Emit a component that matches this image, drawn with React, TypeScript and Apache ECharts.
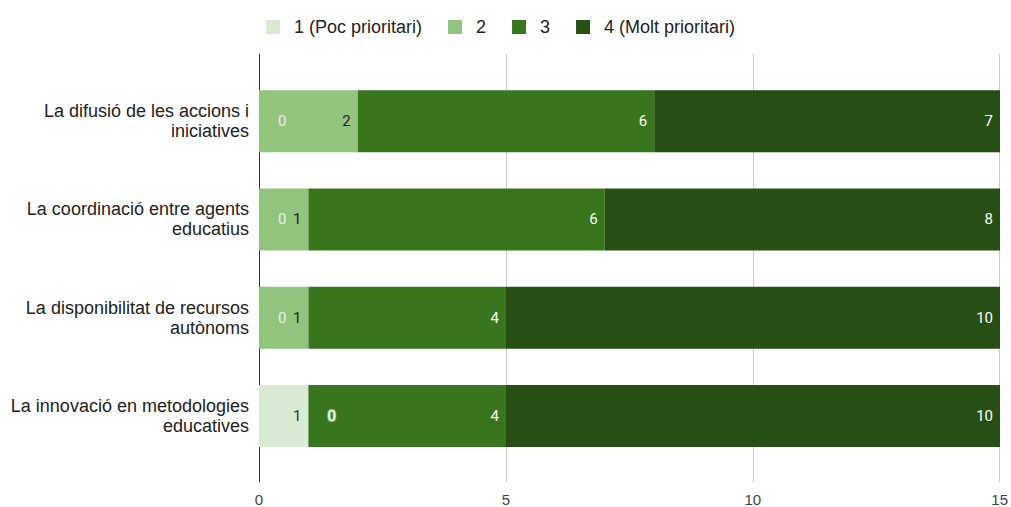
import React, { useEffect, useRef } from "react";
import * as echarts from "echarts";

const categories = [
  "La difusió de les accions i\niniciatives",
  "La coordinació entre agents\neducatius",
  "La disponibilitat de recursos\nautònoms",
  "La innovació en metodologies\neducatives",
];
const seriesNames = ["1 (Poc prioritari)", "2", "3", "4 (Molt prioritari)"];
const s1 = [0, 0, 0, 1];
const s2 = [2, 1, 1, 0];
const s3 = [6, 6, 4, 4];
const s4 = [7, 8, 10, 10];
const xTicks = [0, 5, 10, 15];

const colors = ["#d9ead3", "#93c47d", "#38761d", "#274e13"];
const labelColors = ["#333333", "#222222", "#ffffff", "#ffffff"];
const zeroLabelStyles = [
  { color: "#e6f0e1" },
  { color: "#ffffff", textBorderColor: "#93c47d", textBorderWidth: 2 },
  { color: "#ffffff" },
  { color: "#ffffff" },
];

export default function App() {
  const ref = useRef<HTMLDivElement>(null);
  useEffect(() => {
    if (!ref.current) return;
    const chart = echarts.init(ref.current, null, { renderer: "svg" });
    const font = "'Liberation Sans', Arial, sans-serif";
    const all = [s1, s2, s3, s4];
    const series = all.map((arr, i) => ({
      name: seriesNames[i],
      type: "bar",
      stack: "total",
      xAxisIndex: 0,
      yAxisIndex: 0,
      barWidth: 62,
      itemStyle: { color: colors[i] },
      label: {
        show: true,
        position: "insideRight",
        distance: 7,
        color: labelColors[i],
        fontSize: 15,
        fontFamily: "Roboto, sans-serif",
      },
      data: arr.map((v) =>
        v === 0
          ? {
              value: v,
              label: {
                show: true,
                position: "right",
                distance: 19,
                fontSize: 15,
                fontFamily: "Roboto, sans-serif",
                ...zeroLabelStyles[i],
              },
            }
          : v
      ),
    }));
    chart.setOption({
      animation: false,
      textStyle: { fontFamily: font },
      legend: {
        top: 13,
        left: 261,
        itemWidth: 14,
        itemHeight: 14,
        itemGap: 26,
        icon: "rect",
        textStyle: { fontSize: 18, color: "#222", fontFamily: font, padding: [0, 0, 0, 9] },
        data: seriesNames,
      },
      grid: [
        { left: 259, right: 11, top: 72, bottom: 42 },
        { left: 259, right: 11, top: 54, bottom: 24 },
      ],
      xAxis: [
        {
          gridIndex: 0,
          type: "value",
          min: 0,
          max: 15,
          interval: 5,
          show: false,
        },
        {
          gridIndex: 1,
          type: "value",
          min: 0,
          max: 15,
          interval: 5,
          data: xTicks,
          axisLine: { show: false },
          axisTick: { show: false },
          splitLine: { lineStyle: { color: "#cccccc", width: 1 } },
          axisLabel: { color: "#444", fontSize: 15, margin: 10, fontFamily: font },
        },
      ],
      yAxis: [
        {
          gridIndex: 0,
          type: "category",
          inverse: true,
          data: categories,
          axisLine: { show: false },
          axisTick: { show: false },
          axisLabel: {
            color: "#222",
            fontSize: 18,
            lineHeight: 20,
            margin: 10,
            align: "right",
            fontFamily: font,
          },
        },
        {
          gridIndex: 1,
          type: "value",
          axisLine: { show: true, lineStyle: { color: "#333", width: 1 } },
          axisTick: { show: false },
          axisLabel: { show: false },
          splitLine: { show: false },
        },
      ],
      series,
    });
    return () => chart.dispose();
  }, []);
  return (
    <div
      ref={ref}
      style={{ position: "fixed", left: 0, top: 0, width: 1011, height: 507, background: "#fff" }}
    />
  );
}
